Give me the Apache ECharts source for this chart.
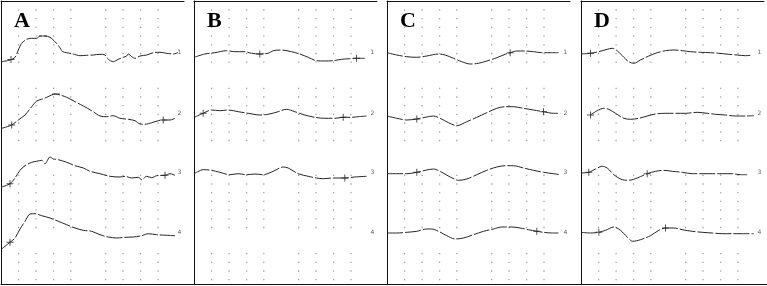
<!DOCTYPE html>
<html><head><meta charset="utf-8">
<script src="https://cdn.jsdelivr.net/npm/echarts@6/dist/echarts.min.js"></script>
<style>html,body{margin:0;padding:0;background:#fff}#c{width:767px;height:286px}</style>
</head><body><div id="c"></div>
<script>
// Panels
const panelNames = ['A', 'B', 'C', 'D'];
const panelLeft = [1, 194, 387, 581];
// Dot grid (time / amplitude divisions inside each panel)
const dotCols = [17.6, 35.1, 52.6, 69.8, 104.7, 122, 139.6, 157];
const dotRows = [9, 17.7, 26.4, 35.1, 43.8, 52.5, 61.2, 87.3, 96, 104.7, 113.4, 122.1, 130.8, 139.5,
  174.3, 183, 191.7, 200.4, 209.1, 217.8, 226.5, 252.6, 261.3, 270, 278.7];
// Channel labels
const channelNames = ['1', '2', '3', '4'];
const channelLabelX = 178.5;
const channelLabelY = [51.5, 112, 171.5, 231.5];

// Traces  [time, level]
const A1 = [[0.7,60.7],[9,59],[14,56.3],[17.3,49],[20.7,42.3],[25.7,38.3],[30.7,37.3],[35.7,37.3],[39,35],[44,35],[49,36.3],[54,40.7],[58.3,45.7],[61.7,50.7],[65.7,51.7],[72.3,53],[79,54.7],[85.7,54.3],[92.3,54],[99,53.3],[104,54],[107.3,58.3],[112.3,60.7],[117.3,58.3],[122.3,56.3],[125.7,55],[127.3,53],[130.7,55.7],[134,57.3],[139,55],[145.7,54],[152.3,51.7],[159,51.3],[165.7,52.3],[172.3,53],[177,51.5]];
const A2 = [[0.7,127.3],[10.7,124],[17.3,119],[24,114],[30.7,105.7],[35.7,100],[40.7,98.3],[45.7,96.3],[50.7,94],[54,93],[59,94],[65.7,96.3],[74,100.7],[82.3,105],[90.7,109.7],[99,115],[105.7,115.7],[112.3,114.7],[119,117.3],[127.3,118.3],[134,119.7],[139,123],[144,123.3],[150.7,121.7],[157.3,119.7],[162.3,119],[169,119],[174,117.3]];
const A3 = [[0.7,186],[9,182.7],[14,177],[19,169.3],[24,164.7],[30.7,161.3],[35.7,160.3],[40.7,159.3],[44,162.7],[49,156],[52.3,158],[57.3,158.7],[65.7,161.3],[74,164.7],[82.3,167],[89,170.3],[99,172.7],[109,175.3],[119,176],[124,175.3],[130.7,177],[137.3,176.3],[140.7,178.7],[145.7,175.3],[150.7,176.7],[155.7,174.7],[164,174.3],[169,172.7],[174,174.3]];
const A4 = [[0.7,248],[9,241.3],[14,237],[19,228],[24,220.3],[29,213],[34,212.7],[40.7,214.7],[49,217],[57.3,220.3],[65.7,223.7],[74,227],[82.3,229.3],[90.7,230.3],[99,233.7],[107.3,236],[115.7,237],[124,236.3],[132.3,236],[140.7,234.7],[147.3,232.7],[155.7,233.7],[165.7,234.3],[174,234.7]];

const B1 = [[0.2,56.3],[10.8,53],[20.8,51.7],[32.5,49.7],[40.8,50.7],[50.8,50.7],[57.5,52.3],[65.8,53],[74.2,52.3],[79.2,49.7],[87.5,49],[97.5,50.7],[105.8,53],[114.2,56.3],[122.5,59.7],[130.8,60],[139.2,59.7],[147.5,58.3],[155.8,57.7],[162.5,57.3],[170.8,57.3]];
const B2 = [[0.2,116.3],[9.2,112.3],[17.5,109],[25.8,109.7],[34.2,109],[44.2,110.7],[54.2,112.3],[65.8,114],[74.2,113.3],[84.2,110.7],[92.5,108.3],[100.8,110.7],[110.8,114],[120.8,116.3],[130.8,117.3],[140.8,117.3],[149.2,116.3],[157.5,116.3],[164.2,115.7],[172.5,115]];
const B3 = [[0.2,172.7],[9.2,168.7],[17.5,169.3],[25.8,171.3],[35.8,173.7],[44.2,172.7],[52.5,173.7],[60.8,173],[69.2,173.7],[79.2,170.3],[89.2,166],[94.2,167],[104.2,172.7],[114.2,175.3],[122.5,177],[129.2,177.7],[139.2,177],[150.8,177],[160.8,176],[172.5,175.3]];
const B4 = [];

const C1 = [[0,51.7],[9.8,54],[19.8,55.7],[29.8,56.3],[39.8,55],[51.5,53],[58.2,54],[66.5,57.3],[74.8,60.7],[83.2,63],[91.5,62.3],[99.8,60],[109.8,56.7],[118.2,53.3],[123.2,51.7],[129.8,50],[138.2,50],[146.5,50.7],[154.8,51.7],[163.2,51.7],[171.5,51.7]];
const C2 = [[0,115],[9.8,117.3],[19.8,119],[29.8,118],[38.2,116.3],[46.5,115],[53.2,117.3],[61.5,121.7],[69.8,124.7],[79.8,120.7],[89.8,116.3],[99.8,111.7],[109.8,107.3],[118.2,105.7],[126.5,105.7],[136.5,107.3],[146.5,109],[156.5,110.7],[166.5,112.3],[173.2,112.3]];
const C3 = [[0,172.7],[9.8,172.7],[19.8,172.7],[29.8,171.3],[38.2,169.3],[46.5,168],[54.8,171.3],[63.2,176],[71.5,179.3],[79.8,178],[89.8,173.7],[99.8,169.3],[109.8,166],[118.2,164.7],[126.5,164.7],[136.5,167],[146.5,169.3],[156.5,171.3],[166.5,172.7],[173.2,173.7]];
const C4 = [[0,232],[9.8,232],[19.8,231.3],[29.8,230.3],[39.8,228],[44.8,228],[51.5,230.3],[59.8,234.7],[68.2,238],[76.5,237],[86.5,233.7],[96.5,230.3],[106.5,228],[114.8,226],[124.8,226],[133.2,227],[141.5,228.7],[149.8,230.3],[156.5,231.3],[164.8,232],[171.5,232]];

const D1 = [[0,53],[9.5,52.3],[17.8,50.7],[26.2,48.3],[31.2,47.3],[36.2,49.7],[42.8,56.3],[47.8,60.7],[52.8,62.3],[59.5,59],[67.8,55],[76.2,51.7],[84.5,49.7],[92.8,49],[101.2,49.7],[109.5,50.7],[119.5,51.3],[129.5,51.7],[137.8,52.3],[147.8,53.3],[156.2,54],[164.5,54.7],[171.2,54]];
const D2 = [[9.5,114],[16.2,109.7],[22.8,107.3],[27.8,108.3],[34.5,112.3],[42.8,117.3],[49.5,118.3],[57.8,117.3],[66.2,115],[74.5,113],[84.5,112.3],[94.5,112.3],[104.5,112.3],[116.2,111.3],[126.2,112.3],[134.5,113.3],[144.5,114],[154.5,115],[164.5,115],[172.8,114.7]];
const D3 = [[0,172],[7.8,171.3],[14.5,168],[21.2,165.3],[26.2,167],[32.8,173.7],[41.2,178.7],[47.8,179.3],[56.2,177],[66.2,172.7],[74.5,170.3],[82.8,169.3],[91.2,170.3],[101.2,171.3],[111.2,172.7],[121.2,172.7],[131.2,172.7],[141.2,172.7],[151.2,172.7],[159.5,173.7],[166.2,173.7]];
const D4 = [[0,231.3],[9.5,232],[17.8,231.3],[24.5,229.3],[32.8,226],[39.5,229.3],[46.2,236],[51.8,240.3],[59.5,238.7],[69.5,234.7],[77.8,229.3],[84.5,227],[92.8,227],[101.2,228.7],[111.2,230.3],[121.2,231.3],[131.2,232],[141.2,232.7],[151.2,232.7],[161.2,232.7],[172.8,232.7]];

// Cursor marks (+) per panel
const marksA = [[10,58.5],[10.7,124],[162.3,119],[9,182.7],[164,174.3],[9,241.3]];
const marksB = [[65.8,53],[162.5,57.3],[9.2,112.3],[149.2,116.3],[150.8,177]];
const marksC = [[123.2,51.7],[29.8,118],[156.5,110.7],[29.8,171.3],[149.8,230.3]];
const marksD = [[9.5,52.3],[9.5,114],[7.8,171.3],[66.2,172.7],[17.8,231.3],[84.5,227]];
// Peak dashes (-)
const peaksA = [[42,35],[55,93]];

const traces = [[A1, A2, A3, A4], [B1, B2, B3, B4], [C1, C2, C3, C4], [D1, D2, D3, D4]];
const marks = [marksA, marksB, marksC, marksD];
const peaks = [peaksA, [], [], []];

const X_MAX = 183, Y_MAX = 283;
const ink = '#262626';
const plusPath = 'path://M3,0h1v3h3v1h-3v3h-1v-3h-3v-1h3z';
const dashPath = 'path://M0,0h8v1h-8z';

const grids = [], xAxes = [], yAxes = [], series = [], titles = [];
panelNames.forEach((name, i) => {
  grids.push({ left: panelLeft[i], top: 1, width: X_MAX, height: Y_MAX });
  xAxes.push({ gridIndex: i, type: 'value', min: 0, max: X_MAX, position: 'top',
    axisLine: { show: true, onZero: false, lineStyle: { color: '#111', width: 1 } },
    axisTick: { show: false }, axisLabel: { show: false }, splitLine: { show: false } });
  yAxes.push({ gridIndex: i, type: 'value', min: 0, max: Y_MAX, inverse: true,
    axisLine: { show: true, onZero: false, lineStyle: { color: '#111', width: 1 } },
    axisTick: { show: false }, axisLabel: { show: false }, splitLine: { show: false } });
  titles.push({ text: name, left: panelLeft[i] + 8, top: 5,
    textStyle: { fontFamily: 'Liberation Serif', fontWeight: 'bold', fontSize: 22, color: '#000' } });
  const dots = [];
  dotCols.forEach(c => dotRows.forEach(r => dots.push([c, r])));
  series.push({ type: 'scatter', xAxisIndex: i, yAxisIndex: i, data: dots, symbol: 'rect',
    symbolSize: 1.3, itemStyle: { color: '#8a8a8a' }, silent: true, z: 1 });
  traces[i].forEach((tr, k) => {
    series.push({ type: 'line', name: name + channelNames[k], xAxisIndex: i, yAxisIndex: i,
      data: tr, showSymbol: false, smooth: 0.3, silent: true,
      lineStyle: { color: ink, width: 1, type: [16, 2] }, z: 3 });
  });
  series.push({ type: 'scatter', xAxisIndex: i, yAxisIndex: i, data: marks[i], symbol: plusPath,
    symbolSize: 7, itemStyle: { color: ink }, silent: true, z: 4 });
  series.push({ type: 'scatter', xAxisIndex: i, yAxisIndex: i, data: peaks[i], symbol: dashPath,
    symbolSize: [8, 1], itemStyle: { color: ink }, silent: true, z: 4 });
  series.push({ type: 'scatter', xAxisIndex: i, yAxisIndex: i, symbolSize: 0, silent: true,
    data: channelNames.map((n, k) => ({ value: [channelLabelX, channelLabelY[k]], name: n })),
    label: { show: true, position: 'inside', formatter: p => p.name, fontSize: 6,
      fontFamily: 'DejaVu Sans', color: '#333' }, z: 4 });
});
// full-width bottom rule
grids.push({ left: 1, right: 0, top: 1, height: Y_MAX });
xAxes.push({ gridIndex: 4, type: 'value', min: 0, max: 1, position: 'bottom',
  axisLine: { show: true, onZero: false, lineStyle: { color: '#111', width: 1 } },
  axisTick: { show: false }, axisLabel: { show: false }, splitLine: { show: false } });
yAxes.push({ gridIndex: 4, type: 'value', show: false, min: 0, max: 1 });

const chart = echarts.init(document.getElementById('c'), null, { renderer: 'canvas' });
chart.setOption({ animation: false, backgroundColor: '#fff', title: titles,
  grid: grids, xAxis: xAxes, yAxis: yAxes, series: series });
</script></body></html>
